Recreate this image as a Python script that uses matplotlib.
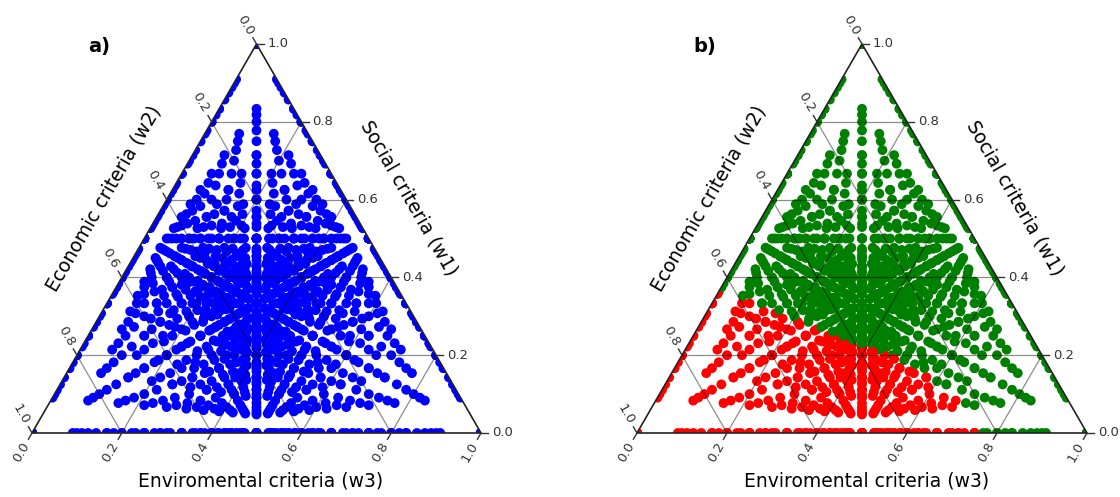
import numpy as np
import matplotlib
matplotlib.use("Agg")
import matplotlib.pyplot as plt
from matplotlib.patches import Polygon
from matplotlib.path import Path

# integer weight levels used for every criterion (normalised afterwards)
weight_levels = [0, 1, 2, 3, 4, 5, 6, 7, 8, 9, 10]

# red zone of panel b as (w1, w3) corners
# (outer corners sit just outside the triangle so edge points are caught)
red_zone_w1 = [-0.05, 0.375, 0.37, 0.27, 0.215, 0.178, 0.08, 0.0, -0.05]
red_zone_w3 = [-0.05, -0.05, 0.0, 0.27, 0.41, 0.51, 0.685, 0.76, 0.80]

tick_values = [0.0, 0.2, 0.4, 0.6, 0.8, 1.0]
tick_labels = ["0.0", "0.2", "0.4", "0.6", "0.8", "1.0"]
grid_values = [0.2, 0.4, 0.6, 0.8]

label_w1 = "Social criteria (w1)"
label_w2 = "Economic criteria (w2)"
label_w3 = "Enviromental criteria (w3)"

H = np.sqrt(3) / 2


def to_xy(w1, w3):
    w1 = np.asarray(w1, dtype=float)
    w3 = np.asarray(w3, dtype=float)
    return w3 + w1 / 2, w1 * H


# build normalised weight triples
triples = []
for a in weight_levels:
    for b in weight_levels:
        for c in weight_levels:
            if a + b + c > 0:
                triples.append((a, b, c))
triples = np.array(triples, dtype=float)
w = triples / triples.sum(axis=1, keepdims=True)
w1, w2, w3 = w[:, 0], w[:, 1], w[:, 2]
px, py = to_xy(w1, w3)

zx, zy = to_xy(red_zone_w1, red_zone_w3)
red_path = Path(np.column_stack([zx, zy]))
is_red = red_path.contains_points(np.column_stack([px, py]))


def draw_ternary(ax, colors, panel):
    ax.set_xlim(0, 1)
    ax.set_ylim(0, H)
    ax.axis("off")

    tri = Polygon([[0, 0], [1, 0], [0.5, H]], closed=True,
                  facecolor="none", edgecolor="none")
    ax.add_patch(tri)

    sc = ax.scatter(px, py, s=50, c=colors, linewidths=0, zorder=2)
    sc.set_clip_path(tri)

    # gridlines
    for g in grid_values:
        # w1 constant (horizontal)
        x0, y0 = to_xy(g, 0)
        x1, y1 = to_xy(g, 1 - g)
        ax.plot([x0, x1], [y0, y1], color="k", alpha=0.45, lw=0.9, zorder=3)
        # w3 constant
        x0, y0 = to_xy(0, g)
        x1, y1 = to_xy(1 - g, g)
        ax.plot([x0, x1], [y0, y1], color="k", alpha=0.45, lw=0.9, zorder=3)
        # w2 constant
        x0, y0 = to_xy(0, 1 - g)
        x1, y1 = to_xy(1 - g, 0)
        ax.plot([x0, x1], [y0, y1], color="k", alpha=0.45, lw=0.9, zorder=3)

    ax.plot([0, 1, 0.5, 0], [0, 0, H, 0], color="#222222", lw=1.2,
            zorder=4, clip_on=False)

    tl = 0.016
    off = 0.049
    tick_kw = dict(color="#333333", lw=1.0, zorder=4, clip_on=False)
    text_kw = dict(fontsize=9.5, color="#333333", rotation_mode="anchor")
    for v, lab in zip(tick_values, tick_labels):
        # right axis: w1
        x, y = to_xy(v, 1 - v)
        ax.plot([x, x + tl], [y, y], **tick_kw)
        ax.text(x + 0.024, y, lab, ha="left", va="center", **text_kw)
        # bottom axis: w3
        x, y = to_xy(0, v)
        dx, dy = -0.5, -H
        ax.plot([x, x + dx * tl], [y, y + dy * tl], **tick_kw)
        ax.text(x + dx * off, y + dy * off, lab, ha="center", va="center",
                rotation=60, **text_kw)
        # left axis: w2
        x, y = to_xy(1 - v, 0)
        dx, dy = -0.5, H
        ax.plot([x, x + dx * tl], [y, y + dy * tl], **tick_kw)
        ax.text(x + dx * off, y + dy * off, lab, ha="center", va="center",
                rotation=-60, **text_kw)

    ax.text(0.51, -0.107, label_w3, ha="center", va="center", fontsize=13.5)
    ax.text(0.16, 0.522, label_w2, ha="center", va="center", fontsize=13.5,
            rotation=60, rotation_mode="anchor")
    ax.text(0.84, 0.522, label_w1, ha="center", va="center", fontsize=13.5,
            rotation=-60, rotation_mode="anchor")
    ax.text(0.15, 0.86, panel, ha="center", va="center", fontsize=14,
            fontweight="bold")


fig = plt.figure(figsize=(11.2, 4.97), dpi=100)
fig.patch.set_facecolor("white")

ax_a = fig.add_axes([32 / 1120, 64 / 497, 449 / 1120, 389 / 497])
ax_b = fig.add_axes([637 / 1120, 64 / 497, 450 / 1120, 389 / 497])

draw_ternary(ax_a, ["blue"] * len(px), "a)")
draw_ternary(ax_b, np.where(is_red, "red", "green"), "b)")

fig.savefig("out.png", dpi=100)
